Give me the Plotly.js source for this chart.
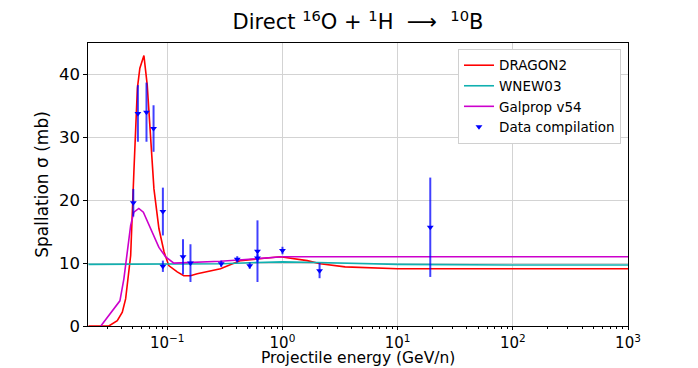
<!DOCTYPE html>
<html>
<head>
<meta charset="utf-8">
<script src="https://cdn.plot.ly/plotly-3.0.1.min.js"></script>
<style>body{margin:0;background:#fff;} #myDiv{width:698px;height:368px;}</style>
</head>
<body>
<div id="myDiv"></div>
<script>
// DRAGON2 model
var dragonE = [0.0207, 0.0311, 0.0368, 0.0407, 0.0435, 0.0481, 0.0513, 0.055, 0.0578, 0.0627, 0.067, 0.0717, 0.0766, 0.0846, 0.0937, 0.103, 0.122, 0.139, 0.159, 0.182, 0.29, 0.432, 0.96, 1.64, 2.13, 3.5, 6, 10, 30, 100, 1000];
var dragonS = [0, 0, 0.85, 2.2, 4.3, 11.2, 24.5, 37.8, 41, 43.0, 38.3, 29.8, 21.8, 15.5, 11.8, 9.6, 8.6, 8.0, 8.0, 8.3, 9.1, 10.4, 11.0, 10.4, 9.9, 9.4, 9.2, 9.1, 9.1, 9.1, 9.1];

// WNEW03 model
var wnewE = [0.0207, 0.1, 0.3, 0.6, 1.0, 2, 5, 10, 100, 1000];
var wnewS = [9.8, 9.8, 9.9, 10.1, 10.2, 10.1, 9.9, 9.8, 9.7, 9.7];

// Galprop v54
var galE = [0.0265, 0.0388, 0.042, 0.0481, 0.0513, 0.0566, 0.062, 0.0717, 0.0846, 0.0968, 0.114, 0.29, 0.6, 1.0, 2, 10, 100, 1000];
var galS = [0, 4.0, 7.5, 16, 18.1, 18.7, 18.1, 15.5, 12.5, 11.0, 10.0, 10.3, 10.7, 11.0, 11.0, 11.0, 11.0, 11.0];

// data compilation
var dataE = [0.0507, 0.0556, 0.066, 0.076, 0.0916, 0.0916, 0.137, 0.159, 0.294, 0.405, 0.52, 0.607, 0.607, 1.0, 2.1, 19.2];
var dataS = [19.6, 33.8, 34.0, 31.4, 18.2, 9.5, 11.0, 10.0, 9.9, 10.6, 9.6, 11.9, 10.8, 12.0, 8.8, 15.7];
var dataErr = [2.2, 4.5, 4.7, 3.7, 3.8, 0.9, 2.8, 3.0, 0.5, 0.5, 0.5, 4.9, 0.6, 0.6, 1.2, 7.9];

var majorVals = [0.1, 1, 10, 100, 1000];
var majorText = ['10<sup>−1</sup>', '10<sup>0</sup>', '10<sup>1</sup>', '10<sup>2</sup>', '10<sup>3</sup>'];

var minorVals = [];
for (var d = -2; d < 3; d++) {
  for (var m = 2; m < 10; m++) {
    minorVals.push(m * Math.pow(10, d));
  }
}

var data = [
  {x: dragonE, y: dragonS, name: 'DRAGON2', mode: 'lines', line: {color: '#ff0000', width: 1.6}},
  {x: wnewE, y: wnewS, name: 'WNEW03', mode: 'lines', line: {color: '#10b0b0', width: 1.6}},
  {x: galE, y: galS, name: 'Galprop v54', mode: 'lines', line: {color: '#cc00cc', width: 1.6}},
  {x: dataE, y: dataS, name: 'Data compilation', mode: 'markers',
    marker: {symbol: 'triangle-down', size: 6, color: '#0000ff'},
    error_y: {type: 'data', array: dataErr, color: 'rgba(0,0,255,0.75)', thickness: 2, width: 0}}
];

var layout = {
  width: 698, height: 368,
  margin: {l: 88, r: 70, t: 43, b: 42},
  paper_bgcolor: '#fff', plot_bgcolor: '#fff',
  font: {family: 'DejaVu Sans', color: '#000', size: 16},
  title: {text: 'Direct <sup>16</sup>O + <sup>1</sup>H  ⟶  <sup>10</sup>B', x: 0.5, xref: 'paper', y: 0.94, yref: 'container', yanchor: 'middle', font: {size: 21}},
  showlegend: true,
  legend: {x: 0.987, y: 0.979, xanchor: 'right', yanchor: 'top', bgcolor: '#fff', bordercolor: '#d0d0d0', borderwidth: 1, font: {size: 13.5}},
  xaxis: {
    type: 'log', range: [Math.log10(0.0205), 3],
    tickmode: 'array', tickvals: majorVals, ticktext: majorText,
    ticks: 'outside', ticklen: 3, tickcolor: '#000', tickfont: {size: 15},
    showline: true, linecolor: '#000', linewidth: 1.2, mirror: true,
    showgrid: true, gridcolor: '#d3d3d3', gridwidth: 1, zeroline: false,
    minor: {tickmode: 'array', tickvals: minorVals, ticks: 'outside', ticklen: 2, tickcolor: '#000', showgrid: false}
  },
  yaxis: {
    range: [0, 45], tickvals: [0, 10, 20, 30, 40],
    ticks: 'outside', ticklen: 3.5, tickcolor: '#000', tickfont: {size: 16.5},
    showline: true, linecolor: '#000', linewidth: 1.2, mirror: true,
    showgrid: true, gridcolor: '#d3d3d3', gridwidth: 1, zeroline: false,
    title: {text: 'Spallation σ (mb)', font: {size: 17}, standoff: 6}
  },
  annotations: [{
    text: 'Projectile energy (GeV/n)', xref: 'paper', yref: 'paper',
    x: 0.5, y: -0.148, xanchor: 'center', yanchor: 'bottom', borderpad: 0,
    showarrow: false, font: {size: 15.5}
  }]
};

Plotly.newPlot('myDiv', data, layout, {displayModeBar: false});
</script>
</body>
</html>
